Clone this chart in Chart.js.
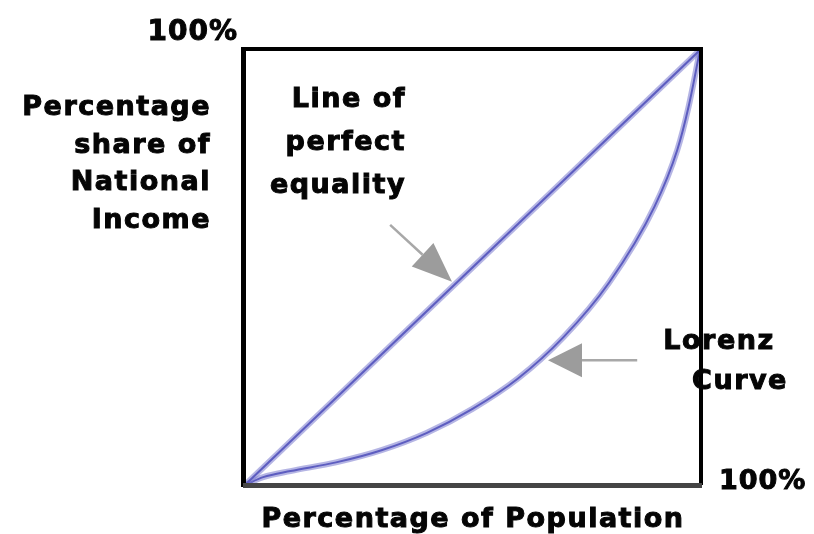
<!DOCTYPE html>
<html>
<head>
<meta charset="utf-8">
<script src="https://cdn.jsdelivr.net/npm/chart.js@4.4.1/dist/chart.umd.min.js"></script>
<style>
html,body{margin:0;padding:0;background:#fff;}
#wrap{width:814px;height:534px;position:relative;}
</style>
</head>
<body>
<div id="wrap"><canvas id="c" width="814" height="534"></canvas></div>
<script>
// ---- data ----
const populationShare = [0, 4, 10, 20, 30, 40, 50, 60, 70, 80, 90, 95, 97.5, 100];
const lorenzIncome    = [0, 1.8, 3.2, 5.2, 8, 12, 17.5, 24.5, 34, 46.5, 64, 77, 87, 100];
const equalityX = [0, 100];
const equalityY = [0, 100];
const yTickLabel = "100%";
const xTickLabel = "100%";
const xAxisTitle = "Percentage of Population";
const yAxisTitle = ["Percentage", "share of", "National", "Income"];
const equalityLabel = ["Line of", "perfect", "equality"];
const lorenzLabel = ["Lorenz", "Curve"];
// arrows in data coordinates: [tailX, tailY, tipX, tipY]
const equalityArrow = [31.9, 59.8, 45.5, 46.7];
const lorenzArrow = [86.2, 28.7, 66.6, 28.7];

const toPts = (xs, ys) => xs.map((x, i) => ({x: x, y: ys[i]}));

const lineBlue = '#3c3cb0';
const haloBlue = 'rgba(120,120,205,0.55)';

const overlay = {
  id: 'overlay',
  afterDatasetsDraw(chart) {
    const ctx = chart.ctx;
    const xs = chart.scales.x, ys = chart.scales.y;
    const a = chart.chartArea;
    ctx.save();
    function arrow(d, headLen, headW) {
      const x1 = xs.getPixelForValue(d[0]), y1 = ys.getPixelForValue(d[1]);
      const x2 = xs.getPixelForValue(d[2]), y2 = ys.getPixelForValue(d[3]);
      const ang = Math.atan2(y2 - y1, x2 - x1);
      const bx = x2 - headLen * Math.cos(ang), by = y2 - headLen * Math.sin(ang);
      ctx.strokeStyle = '#a8a8a8';
      ctx.lineWidth = 2.5;
      ctx.beginPath(); ctx.moveTo(x1, y1); ctx.lineTo(bx, by); ctx.stroke();
      ctx.fillStyle = '#9c9c9c';
      ctx.beginPath();
      ctx.moveTo(x2, y2);
      ctx.lineTo(bx + headW / 2 * Math.sin(ang), by - headW / 2 * Math.cos(ang));
      ctx.lineTo(bx - headW / 2 * Math.sin(ang), by + headW / 2 * Math.cos(ang));
      ctx.closePath(); ctx.fill();
    }
    arrow(equalityArrow, 40, 32);
    arrow(lorenzArrow, 34, 34);

    // frame
    ctx.fillStyle = '#000';
    ctx.fillRect(a.left - 4, a.top - 3, 5, a.bottom - a.top + 5);
    ctx.fillRect(a.left - 4, a.top - 3, a.right - a.left + 6, 4);
    ctx.fillRect(a.right - 1, a.top - 3, 4, a.bottom - a.top + 3);
    ctx.fillStyle = '#454545';
    ctx.fillRect(a.left - 2, a.bottom - 2, a.right - a.left + 4, 5);
    ctx.restore();
  },
  afterDraw(chart) {
    const ctx = chart.ctx;
    const a = chart.chartArea;
    ctx.save();
    ctx.fillStyle = '#050505';
    ctx.strokeStyle = '#050505';
    ctx.lineWidth = 1;
    ctx.textBaseline = 'middle';
    function txt(s, x, y, align, size, spacing) {
      ctx.font = 'bold ' + size + 'px "DejaVu Sans"';
      ctx.letterSpacing = spacing + 'px';
      ctx.textAlign = align;
      ctx.fillText(s, x, y);
      ctx.strokeText(s, x, y);
    }
    txt(yTickLabel, a.left - 7, a.top - 17, 'right', 28, 1);
    txt(xTickLabel, a.right + 19, a.bottom - 3, 'left', 27, 1);
    yAxisTitle.forEach((s, i) => txt(s, a.left - 34, a.top + 58 + i * 37.5, 'right', 27, 1.5));
    equalityLabel.forEach((s, i) => txt(s, a.left + 161, a.top + 50 + i * 43, 'right', 27, 1.5));
    txt(lorenzLabel[0], a.left + 474, a.bottom - 143, 'center', 27, 1.5);
    txt(lorenzLabel[1], a.left + 495, a.bottom - 103, 'center', 27, 1.5);
    txt(xAxisTitle, a.left + 228, a.bottom + 35, 'center', 27, 1.5);
    ctx.restore();
  }
};

new Chart(document.getElementById('c'), {
  type: 'scatter',
  data: {
    datasets: [
      {data: toPts(equalityX, equalityY), showLine: true, borderColor: haloBlue, borderWidth: 6, pointRadius: 0, tension: 0},
      {data: toPts(equalityX, equalityY), showLine: true, borderColor: lineBlue, borderWidth: 2, pointRadius: 0, tension: 0},
      {data: toPts(populationShare, lorenzIncome), showLine: true, borderColor: haloBlue, borderWidth: 6, pointRadius: 0, cubicInterpolationMode: 'monotone'},
      {data: toPts(populationShare, lorenzIncome), showLine: true, borderColor: lineBlue, borderWidth: 2, pointRadius: 0, cubicInterpolationMode: 'monotone'}
    ]
  },
  options: {
    responsive: false,
    animation: false,
    devicePixelRatio: 1,
    layout: {padding: {left: 245, top: 50, right: 114, bottom: 49}},
    plugins: {legend: {display: false}, tooltip: {enabled: false}},
    scales: {
      x: {type: 'linear', min: 0, max: 100, display: false},
      y: {type: 'linear', min: 0, max: 100, display: false}
    }
  },
  plugins: [overlay]
});
</script>
</body>
</html>
